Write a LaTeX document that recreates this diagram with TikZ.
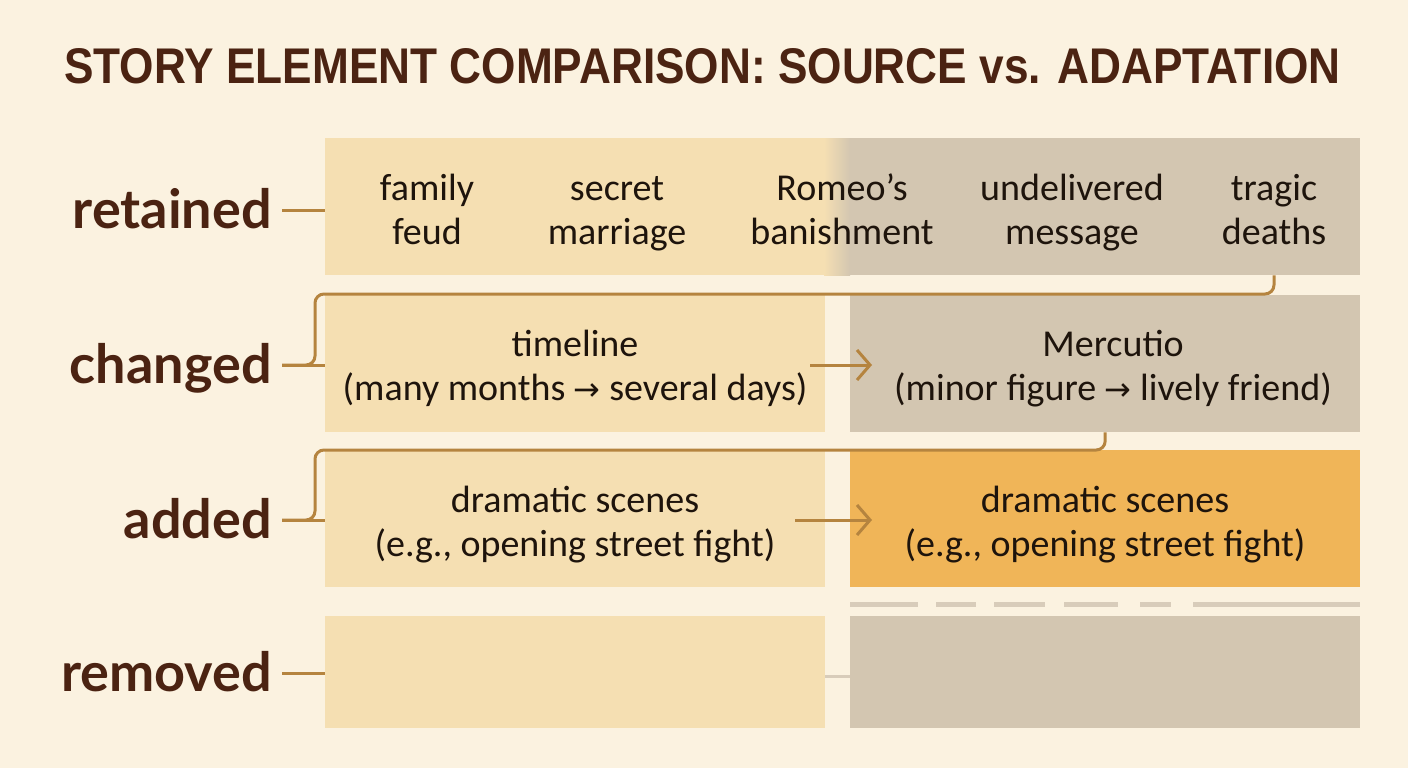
\documentclass[tikz,border=0pt]{standalone}
\usepackage{fontspec}
\setmainfont{Carlito}
\newfontfamily\labfont{Lato}
\newfontfamily\titfont{Liberation Sans}
\newfontfamily\symfont{DejaVu Sans}
\usetikzlibrary{arrows.meta,calc}
\definecolor{bgc}{HTML}{FBF2E0}
\definecolor{creamc}{HTML}{F5DFB2}
\definecolor{grayc}{HTML}{D3C6B1}
\definecolor{orangec}{HTML}{F0B558}
\definecolor{linec}{HTML}{B5843F}
\definecolor{labc}{HTML}{4B2312}
\definecolor{txtc}{HTML}{1E140C}
\definecolor{dashc}{HTML}{D8CCBA}
\newcommand{\arr}{{\symfont\fontsize{32}{36}\selectfont →}}
\newcommand{\ms}{\rule[-10pt]{0pt}{39pt}}
\tikzset{
  cell/.style={inner sep=0pt, anchor=north west},
  itm/.style={align=center, text=txtc, font=\fontsize{38}{44}\selectfont, inner sep=0pt},
  lab/.style={anchor=east, inner xsep=10pt, inner ysep=0pt, text height=48pt, text depth=12pt,
     text=labc, font=\labfont\bfseries\fontsize{54}{60}\selectfont},
  conn/.style={draw=linec, line width=3pt, rounded corners=9pt},
  arrw/.style={draw=linec, line width=3pt, -{Straight Barb[length=13pt,width=30pt,line width=3pt]}}
}
\begin{document}
\begin{tikzpicture}[x=1pt,y=-1pt]
\fill[bgc] (0,0) rectangle (1408,768);
\useasboundingbox (0,0) rectangle (1408,768);
% title
\node[anchor=west, inner sep=0pt, text=labc] (title) at (64,66)
  {\resizebox{1276pt}{35pt}{\titfont\bfseries STORY ELEMENT COMPARISON: SOURCE vs. ADAPTATION}};
% row 1
\node[cell, fill=grayc, minimum width=1035pt, minimum height=137pt] (r1) at (325,138) {};
\fill[creamc] (325,138) rectangle (825,275);
\shade[left color=creamc, right color=grayc] (824,138) rectangle (850,275);
% row 2
\node[cell, fill=creamc, minimum width=500pt, minimum height=137pt] (c2l) at (325,295) {};
\node[cell, fill=grayc, minimum width=510pt, minimum height=137pt] (c2r) at (850,295) {};
% row 3
\node[cell, fill=creamc, minimum width=500pt, minimum height=137pt] (a3l) at (325,450) {};
\node[cell, fill=orangec, minimum width=510pt, minimum height=137pt] (a3r) at (850,450) {};
% dashed separator
\coordinate (d1) at (850,604);
\coordinate (d2) at (1360,604);
\draw[dashc, line width=5pt, dash pattern=on 68pt off 18pt on 40pt off 18pt on 51pt off 19pt on 54pt off 22pt on 31pt off 22pt on 170pt off 10pt] (d1) -- (d2);
% row 4
\node[cell, fill=creamc, minimum width=500pt, minimum height=112pt] (m4l) at (325,616) {};
\node[cell, fill=grayc, minimum width=510pt, minimum height=112pt] (m4r) at (850,616) {};
\draw[dashc, line width=3pt] (m4l.east |- 0,676) -- (m4r.west |- 0,676);
% row 1 items
\node[itm] (t1) at (427,213) {\ms family\\\ms feud};
\node[itm] (t2) at (617,213) {\ms secret\\\ms marriage};
\node[itm] (t3) at (842,213) {\ms Romeo’s\\\ms banishment};
\node[itm] (t4) at (1072,213) {\ms undelivered\\\ms message};
\node[itm] (t5) at (1274,213) {\ms tragic\\\ms deaths};
% row 2 items
\node[itm] (x1) at (575,369) {\ms timeline\\\ms (many months \arr{} several days)};
\node[itm] (x2) at (1113,369) {\ms Mercutio\\\ms (minor figure \arr{} lively friend)};
% row 3 items
\node[itm] (y1) at (575,525) {\ms dramatic scenes\\\ms (e.g., opening street fight)};
\node[itm] (y2) at (1105,525) {\ms dramatic scenes\\\ms (e.g., opening street fight)};
% labels
\node[lab] (lr) at (282,210) {retained};
\node[lab] (lc) at (282,365) {changed};
\node[lab] (la) at (282,520) {added};
\node[lab] (lm) at (282,673) {removed};
% label connectors
\draw[conn] (lr.east) -- (lr.east -| r1.west);
\draw[conn] (lc.east) -- (lc.east -| c2l.west);
\draw[conn] (la.east) -- (la.east -| a3l.west);
\draw[conn] (lm.east) -- (lm.east -| m4l.west);
% brackets
\coordinate (k1) at (315,294);
\coordinate (k2) at (315,450);
\draw[conn] (t5 |- r1.south) |- (k1) -- (k1 |- lc.east) -- (lc.east);
\draw[conn] (c2r.south) |- (k2) -- (k2 |- la.east) -- (la.east);
% arrows
\coordinate (p1) at (810,365);
\coordinate (p2) at (872,365);
\coordinate (q1) at (795,520);
\coordinate (q2) at (872,520);
\draw[arrw] (p1) -- (p2);
\draw[arrw] (q1) -- (q2);
\end{tikzpicture}
\end{document}
